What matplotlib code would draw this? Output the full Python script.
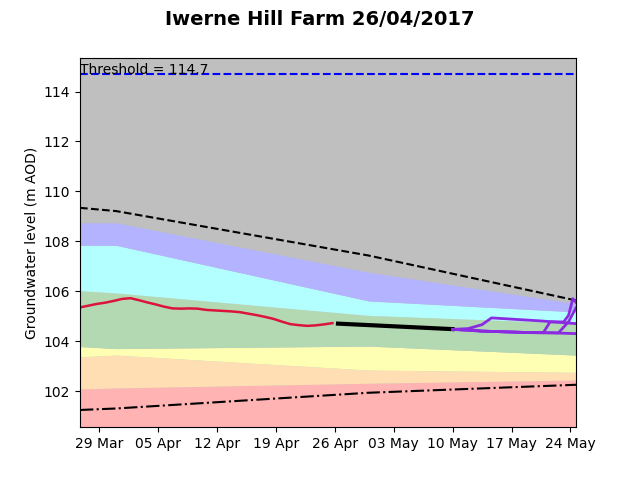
import pandas as pd
import matplotlib
matplotlib.use('Agg')
import matplotlib.pyplot as plt
import matplotlib.dates as mdates


def to_dates(lst):
    return pd.to_datetime(lst, format='ISO8601')


# Percentile band boundaries (m AOD) at these dates
band_dates = to_dates(['2017-03-26 17:00', '2017-03-31 00:00', '2017-04-30 00:00', '2017-05-24 16:00'])
p_red = [102.08, 102.12, 102.31, 102.44]
p_orange = [103.37, 103.44, 102.84, 102.75]
p_yellow = [103.78, 103.70, 103.80, 103.44]
p_green = [106.02, 105.93, 105.03, 104.72]
p_cyan = [107.84, 107.84, 105.61, 105.17]
p_blue = [108.74, 108.74, 106.76, 105.50]
max_level = [109.34, 109.21, 107.43, 105.63]
min_level = [101.24, 101.30, 101.93, 102.25]

threshold = 114.7

# Observed levels
obs_start = '2017-03-26 17:00'
obs_values = [105.35, 105.42, 105.49, 105.54, 105.61, 105.69, 105.72, 105.64, 105.55, 105.47,
              105.38, 105.31, 105.30, 105.31, 105.30, 105.25, 105.23, 105.21, 105.19, 105.16,
              105.10, 105.04, 104.97, 104.89, 104.78, 104.68, 104.64, 104.61, 104.63, 104.67,
              104.72]

# Short range forecast
fc_dates = to_dates(['2017-04-26 09:00', '2017-05-10 00:00'])
fc_values = [104.70, 104.48]

# Ensemble scenarios
ens_a_dates = to_dates(['2017-05-10 00:00', '2017-05-11 20:00', '2017-05-13 12:00', '2017-05-14 15:00',
                        '2017-05-20 10:00', '2017-05-24 16:00'])
ens_a = [104.47, 104.50, 104.66, 104.93, 104.81, 104.70]
ens_b_dates = to_dates(['2017-05-10 00:00', '2017-05-11 20:00', '2017-05-13 12:00', '2017-05-16 08:00',
                        '2017-05-19 06:00', '2017-05-21 20:00', '2017-05-24 16:00'])
ens_b = [104.47, 104.47, 104.40, 104.37, 104.34, 104.33, 104.30]
ens_c_dates = to_dates(['2017-05-10 00:00', '2017-05-13 12:00', '2017-05-19 06:00', '2017-05-20 19:00',
                        '2017-05-21 14:00', '2017-05-23 05:00', '2017-05-23 19:00',
                        '2017-05-24 07:00', '2017-05-24 16:00'])
ens_c = [104.47, 104.40, 104.34, 104.34, 104.77, 104.77, 105.04, 105.70, 105.55]
ens_d_dates = to_dates(['2017-05-10 00:00', '2017-05-13 12:00', '2017-05-19 06:00', '2017-05-22 14:00',
                        '2017-05-23 19:00', '2017-05-24 05:00', '2017-05-24 16:00'])
ens_d = [104.47, 104.40, 104.34, 104.33, 104.78, 105.05, 105.33]

ymin, ymax = 100.55, 115.36
obs_dates = pd.date_range(obs_start, periods=len(obs_values), freq='D')

fig, ax = plt.subplots(figsize=(6.4, 4.8))
ax.set_facecolor('#bfbfbf')

ax.fill_between(band_dates, ymin, p_red, color='#ffb3b3', lw=0)
ax.fill_between(band_dates, p_red, p_orange, color='#ffdeb3', lw=0)
ax.fill_between(band_dates, p_orange, p_yellow, color='#ffffb3', lw=0)
ax.fill_between(band_dates, p_yellow, p_green, color='#b3d9b3', lw=0)
ax.fill_between(band_dates, p_green, p_cyan, color='#b3ffff', lw=0)
ax.fill_between(band_dates, p_cyan, p_blue, color='#b3b3ff', lw=0)

ax.plot(band_dates, max_level, 'k--', lw=1.5)
ax.plot(band_dates, min_level, 'k-.', lw=1.5)
ax.axhline(threshold, color='b', ls='--', lw=1.5)
ax.text(band_dates[0], threshold, 'Threshold = %.1f' % threshold, fontsize=10)

ax.plot(obs_dates, obs_values, color='#dc143c', lw=1.8)
ax.plot(fc_dates, fc_values, color='k', lw=3)
for d, v in [(ens_a_dates, ens_a), (ens_b_dates, ens_b), (ens_c_dates, ens_c), (ens_d_dates, ens_d)]:
    ax.plot(d, v, color='#8a2be2', lw=2)

ax.set_xlim(band_dates[0], band_dates[-1])
ax.set_ylim(ymin, ymax)
ax.xaxis.set_major_locator(mdates.WeekdayLocator(byweekday=mdates.WE))
ax.xaxis.set_major_formatter(mdates.DateFormatter('%d %b'))
ax.set_ylabel('Groundwater level (m AOD)')
fig.suptitle('Iwerne Hill Farm 26/04/2017', fontsize=14, fontweight='bold')

fig.savefig('out.png', dpi=100)
